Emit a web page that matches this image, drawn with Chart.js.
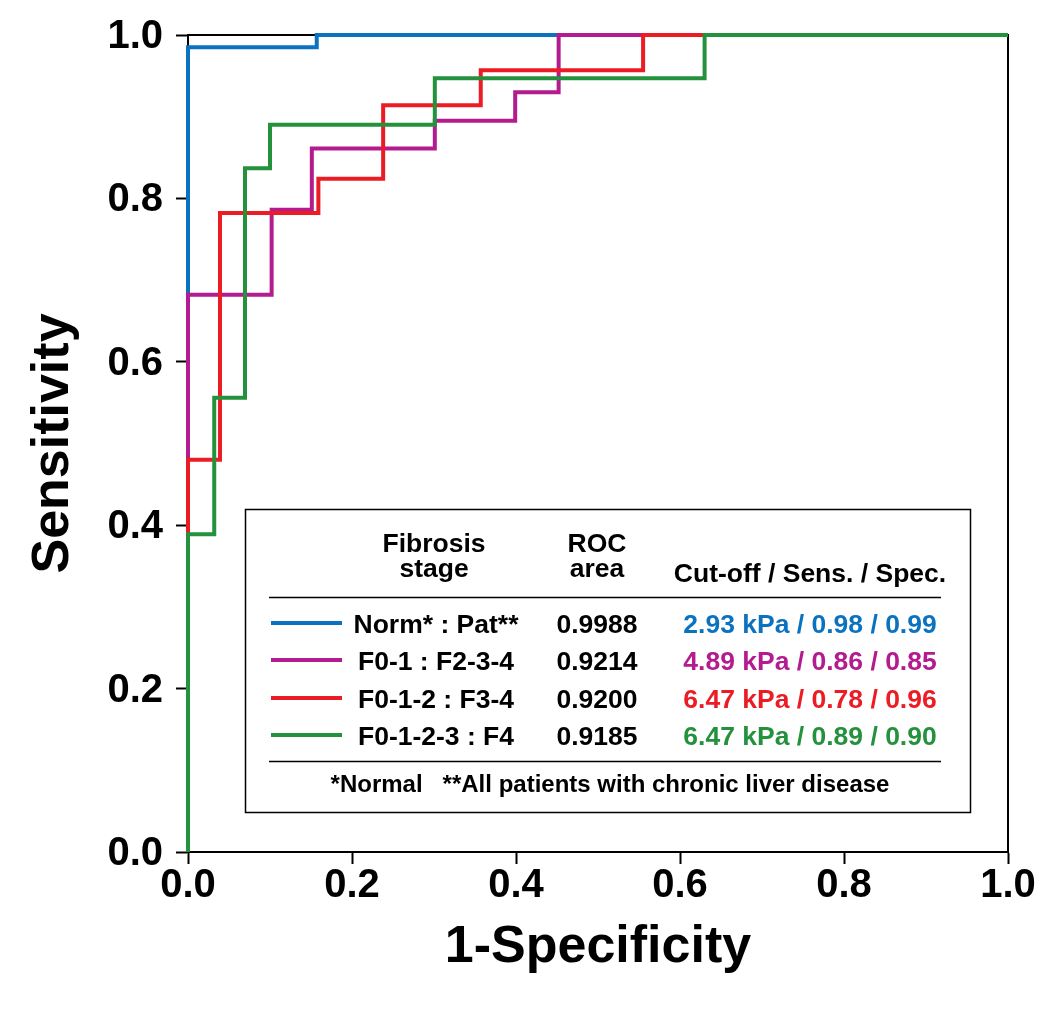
<!DOCTYPE html>
<html><head><meta charset="utf-8">
<script src="https://cdn.jsdelivr.net/npm/chart.js@4"></script>
<style>html,body{margin:0;padding:0;background:#fff;} canvas{display:block;}</style>
</head><body>
<canvas id="c" width="1050" height="1009"></canvas>
<script>
// ---- data ----
const tickValues = [0, 0.2, 0.4, 0.6, 0.8, 1.0];
const xTitle = '1-Specificity';
const yTitle = 'Sensitivity';
const seriesNames = ['Norm* : Pat**', 'F0-1 : F2-3-4', 'F0-1-2 : F3-4', 'F0-1-2-3 : F4'];
const seriesColors = ['#0b72c0', '#b41b8f', '#ec1c24', '#24913c'];
const rocAreas = ['0.9988', '0.9214', '0.9200', '0.9185'];
const cutoffKpa = ['2.93', '4.89', '6.47', '6.47'];
const sensValues = ['0.98', '0.86', '0.78', '0.89'];
const specValues = ['0.99', '0.85', '0.96', '0.90'];
const headerStage = ['Fibrosis', 'stage'];
const headerRoc = ['ROC', 'area'];
const headerCut = 'Cut-off / Sens. / Spec.';
const footnote = '*Normal   **All patients with chronic liver disease';

// ROC step vertices (1-specificity, sensitivity)
const normFpr = [0, 0, 0.157, 1];
const normTpr = [0, 0.985, 1.0, 1.0];
const f01Fpr = [0, 0, 0.102, 0.151, 0.301, 0.399, 0.452, 1];
const f01Tpr = [0, 0.682, 0.786, 0.861, 0.895, 0.930, 1.0, 1.0];
const f012Fpr = [0, 0, 0.039, 0.159, 0.238, 0.357, 0.555, 1];
const f012Tpr = [0, 0.480, 0.782, 0.824, 0.914, 0.957, 1.0, 1.0];
const f0123Fpr = [0, 0, 0.032, 0.0695, 0.100, 0.301, 0.630, 1];
const f0123Tpr = [0, 0.389, 0.556, 0.837, 0.890, 0.947, 1.0, 1.0];

const fprSets = [normFpr, f01Fpr, f012Fpr, f0123Fpr];
const tprSets = [normTpr, f01Tpr, f012Tpr, f0123Tpr];

const FONT = '"Liberation Sans", Arial, Helvetica, sans-serif';

const datasets = seriesNames.map((name, i) => ({
  label: name,
  data: fprSets[i].map((x, j) => ({x: x, y: tprSets[i][j]})),
  borderColor: seriesColors[i],
  backgroundColor: seriesColors[i],
  borderWidth: 4,
  pointRadius: 0,
  stepped: 'before',
  fill: false,
  clip: false,
  order: seriesNames.length - i,
  borderJoinStyle: 'miter',
  borderCapStyle: 'butt'
}));

const framePlugin = {
  id: 'frame',
  beforeDatasetsDraw(chart) {
    const {ctx, chartArea: a} = chart;
    ctx.save();
    ctx.strokeStyle = '#000';
    ctx.lineWidth = 2;
    ctx.strokeRect(a.left, a.top, a.right - a.left, a.bottom - a.top);
    ctx.restore();
  }
};

const tablePlugin = {
  id: 'rocTable',
  afterDatasetsDraw(chart) {
    const ctx = chart.ctx;
    ctx.save();
    ctx.fillStyle = '#fff';
    ctx.fillRect(245, 509, 725, 303);
    ctx.strokeStyle = '#000';
    ctx.lineWidth = 1.5;
    ctx.strokeRect(245.5, 509.5, 725, 303);
    ctx.beginPath();
    ctx.moveTo(269, 597.5); ctx.lineTo(941, 597.5);
    ctx.moveTo(269, 761.5); ctx.lineTo(941, 761.5);
    ctx.stroke();
    ctx.fillStyle = '#000';
    ctx.textAlign = 'center';
    ctx.textBaseline = 'alphabetic';
    ctx.font = '700 26.5px ' + FONT;
    ctx.fillText(headerStage[0], 434, 552);
    ctx.fillText(headerStage[1], 434, 577);
    ctx.fillText(headerRoc[0], 597, 552);
    ctx.fillText(headerRoc[1], 597, 577);
    ctx.fillText(headerCut, 810, 582);
    const baselines = [633, 670, 708, 745];
    ctx.font = '700 26.5px ' + FONT;
    for (let i = 0; i < seriesNames.length; i++) {
      const b = baselines[i];
      ctx.strokeStyle = seriesColors[i];
      ctx.lineWidth = 4;
      ctx.beginPath();
      ctx.moveTo(271, b - 10); ctx.lineTo(342, b - 10);
      ctx.stroke();
      ctx.fillStyle = '#000';
      ctx.textAlign = 'center';
      ctx.fillText(seriesNames[i], 436, b);
      ctx.fillText(rocAreas[i], 597, b);
      ctx.fillStyle = seriesColors[i];
      ctx.fillText(cutoffKpa[i] + ' kPa / ' + sensValues[i] + ' / ' + specValues[i], 810, b);
    }
    ctx.fillStyle = '#000';
    ctx.font = '700 24px ' + FONT;
    ctx.fillText(footnote, 610, 792);
    ctx.restore();
  }
};

new Chart(document.getElementById('c'), {
  type: 'line',
  data: {datasets: datasets},
  options: {
    responsive: false,
    devicePixelRatio: 1,
    animation: false,
    events: [],
    layout: {padding: {top: 33, right: 42, left: 0, bottom: 0}},
    plugins: {legend: {display: false}, tooltip: {enabled: false}},
    scales: {
      x: {
        type: 'linear', min: 0, max: 1,
        afterFit(s) { s.height = 157; },
        afterBuildTicks(s) { s.ticks = tickValues.map(v => ({value: v})); },
        grid: {drawOnChartArea: false, drawTicks: true, tickLength: 12, tickWidth: 2, tickColor: '#000'},
        border: {display: true, color: '#000', width: 2},
        ticks: {
          padding: 0, color: '#000', maxRotation: 0,
          font: {family: FONT, size: 40, weight: 'bold', lineHeight: 1.1},
          callback: v => Number(v).toFixed(1)
        },
        title: {display: true, text: xTitle, color: '#000',
          font: {family: FONT, size: 52, weight: 'bold', lineHeight: 1.2},
          padding: {top: 0, bottom: 30}}
      },
      y: {
        type: 'linear', min: 0, max: 1,
        afterFit(s) { s.width = 188; },
        afterBuildTicks(s) { s.ticks = tickValues.map(v => ({value: v})); },
        grid: {drawOnChartArea: false, drawTicks: true, tickLength: 12, tickWidth: 2, tickColor: '#000'},
        border: {display: true, color: '#000', width: 2},
        ticks: {
          padding: 13, color: '#000', labelOffset: 2,
          font: {family: FONT, size: 40, weight: 'bold', lineHeight: 1.1},
          callback: v => Number(v).toFixed(1)
        },
        title: {display: true, text: yTitle, color: '#000',
          font: {family: FONT, size: 52, weight: 'bold', lineHeight: 1.2},
          padding: {top: 22, bottom: 0}}
      }
    }
  },
  plugins: [framePlugin, tablePlugin]
});
</script>
</body></html>
